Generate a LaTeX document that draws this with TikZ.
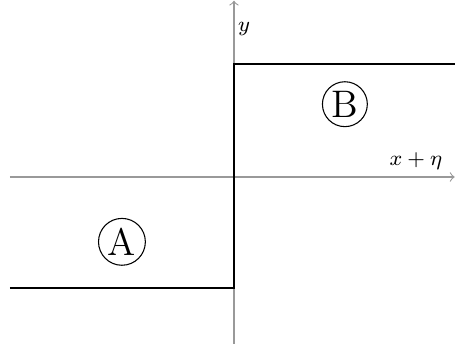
\documentclass[tikz,border=0pt]{standalone}
\usepackage{amsmath,amssymb}
\usetikzlibrary{positioning,calc}

\begin{document}
\begin{tikzpicture}[scale=0.75]
			\useasboundingbox (-4.114,-2.936) rectangle (3.886,3.112);
			\begin{scope}[gray!80,->,thin]
			\draw (-3.94,0)--(3.88,0) node (xax) {};
			\draw (0,-2.936)--(0,3.1) node (yax) {};
			\end{scope}
			\node (ylab) at (0.18,2.6) {\footnotesize $y$};
			\node (xlab) at (3.2,0.28) {\footnotesize $x+\eta$};
			\node[draw,circle,inner sep=1pt] (A) at (-1.97,-1.14) {\Large A};
			\node[draw,circle,inner sep=1pt] (B) at (1.95,1.28) {\Large B};
			\begin{scope}[line width=0.6pt]
			\draw (-3.94,-1.95)--(0,-1.95)--(0,1.99)--(3.886,1.99);
			\end{scope}
\end{tikzpicture}
\end{document}
